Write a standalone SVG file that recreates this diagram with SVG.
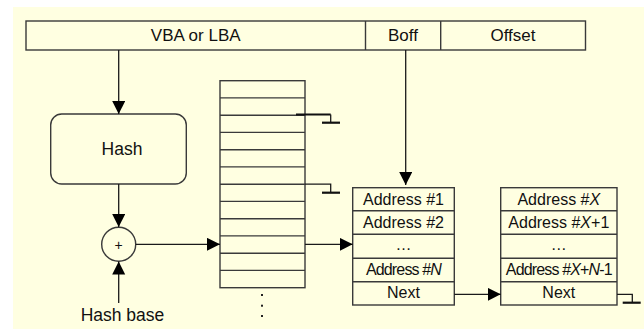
<svg xmlns="http://www.w3.org/2000/svg" width="644" height="329" viewBox="0 0 644 329">
  <style>
    .box { fill: none; stroke: #3a3a3a; stroke-width: 1.4; }
    .line { fill: none; stroke: #1a1a1a; stroke-width: 1.3; }
    .gnd { fill: none; stroke: #111; stroke-width: 2.2; }
    .t { font-family: "Liberation Sans", Arial, sans-serif; fill: #111; text-anchor: middle; }
    .t17 { font-size: 17px; }
    .t16 { font-size: 16px; }
    .tight { letter-spacing: -0.85px; }
  </style>
  <defs>
    <marker id="arrow" markerUnits="userSpaceOnUse" markerWidth="14" markerHeight="14" refX="13" refY="6.5" orient="auto">
      <path d="M0,0 L13,6.5 L0,13 z" fill="#000"/>
    </marker>
  </defs>

  <!-- page background -->
  <rect x="13" y="7" width="631" height="322" fill="#FFFFE1"/>

  <!-- address word: VBA/LBA | Boff | Offset -->
  <g id="address-word">
    <rect class="box" x="26" y="21" width="559.5" height="29"/>
    <line class="box" x1="365.5" y1="21" x2="365.5" y2="50"/>
    <line class="box" x1="440.7" y1="21" x2="440.7" y2="50"/>
    <text class="t t17" x="195.7" y="41">VBA or LBA</text>
    <text class="t t17" x="403" y="41">Boff</text>
    <text class="t t17" x="513" y="41">Offset</text>
  </g>

  <g id="hash">
    <rect class="box" x="50.7" y="114" width="135.6" height="70" rx="11"/>
    <text class="t" style="font-size:17.5px" x="122" y="155">Hash</text>
  </g>

  <g id="adder">
    <circle class="box" cx="118.7" cy="244.3" r="17"/>
    <text class="t" style="font-size:14px" x="118.7" y="249.5">+</text>
  </g>

  <g id="hash-base">
    <text class="t" style="font-size:17.5px" x="122.5" y="320.5">Hash base</text>
  </g>

  <!-- hash table -->
  <g id="hash-table">
    <rect class="box" x="220" y="80.7" width="85" height="207"/>
    <g class="box">
      <line x1="220" y1="97.9" x2="305" y2="97.9"/>
      <line x1="220" y1="115.2" x2="305" y2="115.2"/>
      <line x1="220" y1="132.4" x2="305" y2="132.4"/>
      <line x1="220" y1="149.7" x2="305" y2="149.7"/>
      <line x1="220" y1="166.9" x2="305" y2="166.9"/>
      <line x1="220" y1="184.2" x2="305" y2="184.2"/>
      <line x1="220" y1="201.4" x2="305" y2="201.4"/>
      <line x1="220" y1="218.7" x2="305" y2="218.7"/>
      <line x1="220" y1="235.9" x2="305" y2="235.9"/>
      <line x1="220" y1="253.2" x2="305" y2="253.2"/>
      <line x1="220" y1="270.4" x2="305" y2="270.4"/>
    </g>
    <g fill="#222">
      <rect x="261" y="294" width="2" height="2"/>
      <rect x="261" y="304.7" width="2" height="2"/>
      <rect x="261" y="315" width="2" height="2"/>
    </g>
  </g>

  <!-- first block of addresses -->
  <g id="block-1">
    <rect class="box" x="352.7" y="187.7" width="101.6" height="117.3"/>
    <g class="box">
      <line x1="352.7" y1="210.7" x2="454.3" y2="210.7"/>
      <line x1="352.7" y1="234.3" x2="454.3" y2="234.3"/>
      <line x1="352.7" y1="258.3" x2="454.3" y2="258.3"/>
      <line x1="352.7" y1="281.7" x2="454.3" y2="281.7"/>
    </g>
    <text class="t t16" x="403.5" y="205">Address #1</text>
    <text class="t t16" x="403.5" y="228">Address #2</text>
    <text class="t t16" x="403.5" y="250">…</text>
    <text class="t t16 tight" x="403.5" y="275">Address #<tspan font-style="italic">N</tspan></text>
    <text class="t t16" x="403.5" y="298">Next</text>
  </g>

  <!-- chained block of addresses -->
  <g id="block-2">
    <rect class="box" x="500.7" y="187.7" width="116.3" height="117.3"/>
    <g class="box">
      <line x1="500.7" y1="210.7" x2="617" y2="210.7"/>
      <line x1="500.7" y1="234.3" x2="617" y2="234.3"/>
      <line x1="500.7" y1="258.3" x2="617" y2="258.3"/>
      <line x1="500.7" y1="281.7" x2="617" y2="281.7"/>
    </g>
    <text class="t t16" x="558.8" y="205">Address #<tspan font-style="italic">X</tspan></text>
    <text class="t t16" x="558.8" y="228">Address #<tspan font-style="italic">X</tspan>+1</text>
    <text class="t t16" x="558.8" y="250">…</text>
    <text class="t t16 tight" x="558.8" y="275">Address #<tspan font-style="italic">X</tspan>+<tspan font-style="italic">N</tspan>-1</text>
    <text class="t t16" x="558.8" y="298">Next</text>
  </g>

  <!-- connectors -->
  <g id="connectors">
    <line class="line" x1="118.7" y1="50" x2="118.7" y2="114" marker-end="url(#arrow)"/>
    <line class="line" x1="118.7" y1="184" x2="118.7" y2="227" marker-end="url(#arrow)"/>
    <line class="line" x1="118.7" y1="303" x2="118.7" y2="261.5" marker-end="url(#arrow)"/>
    <line class="line" x1="135.7" y1="244.3" x2="220" y2="244.3" marker-end="url(#arrow)"/>
    <line class="line" x1="305" y1="244.3" x2="352.7" y2="244.3" marker-end="url(#arrow)"/>
    <line class="line" x1="405.7" y1="50" x2="405.7" y2="185" marker-end="url(#arrow)"/>
    <line class="line" x1="454.3" y1="294.3" x2="500.7" y2="294.3" marker-end="url(#arrow)"/>
    <!-- null terminators -->
    <path class="gnd" d="M296,114.5 H330.7"/>
    <path class="line" d="M330.7,114.5 V122.7"/>
    <path class="gnd" d="M322,122.7 H340"/>
    <path class="line" d="M305,184.2 H330.7 V192.7"/>
    <path class="gnd" d="M322,192.7 H340"/>
    <path class="line" d="M617,294.3 H632.3 V302.7"/>
    <path class="gnd" d="M622.7,302.7 H640.7"/>
  </g>
</svg>
